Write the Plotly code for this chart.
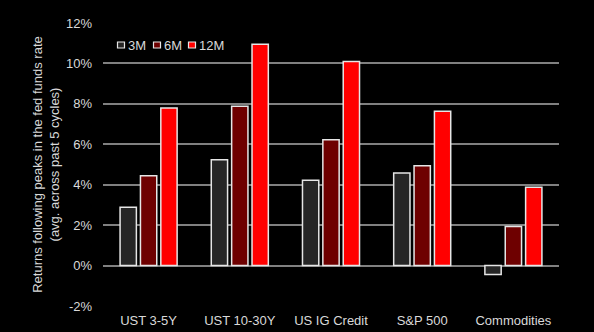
import plotly.graph_objects as go

# Asset classes and average returns (%) after fed funds peaks
categories = ["UST 3-5Y", "UST 10-30Y", "US IG Credit", "S&P 500", "Commodities"]
ret_3m = [2.88, 5.23, 4.22, 4.58, -0.44]
ret_6m = [4.44, 7.88, 6.22, 4.94, 1.93]
ret_12m = [7.79, 10.95, 10.10, 7.64, 3.87]
y_ticks = [-2, 0, 2, 4, 6, 8, 10, 12]
y_tick_labels = [f"{v}%" for v in y_ticks]

series = [
    ("3M", ret_3m, "#262626"),
    ("6M", ret_6m, "#6e0000"),
    ("12M", ret_12m, "#ff0000"),
]

FONT = "Liberation Sans, Arial, sans-serif"
TXT = "#d9d9d9"
OUTLINE = "#e6e6e6"

fig = go.Figure()
for name, vals, col in series:
    fig.add_trace(go.Bar(
        x=categories, y=vals, name=name,
        marker=dict(color=col, line=dict(color=OUTLINE, width=1.5)),
        showlegend=False,
    ))

# Compact legend drawn as small swatches with labels
legend_items = [("3M", "#262626", 117.5), ("6M", "#6e0000", 153.5), ("12M", "#ff0000", 188.5)]
W, H = 594, 332
L, R, T, B = 103, 35, 23, 26
pw, ph = W - L - R, H - T - B
shapes = []
annotations = []
for label, col, px in legend_items:
    x0 = (px - L) / pw
    x1 = (px + 7 - L) / pw
    y0 = 1 - (42 - T) / ph
    y1 = 1 - (48 - T) / ph
    shapes.append(dict(type="rect", xref="paper", yref="paper", x0=x0, x1=x1, y0=y0, y1=y1,
                       fillcolor=col, line=dict(color=OUTLINE, width=1.2)))
    annotations.append(dict(text=label, xref="paper", yref="paper", x=(px + 8.5 - L) / pw,
                            y=1 - (45 - T) / ph, xanchor="left", yanchor="middle",
                            showarrow=False, font=dict(family=FONT, size=13, color=TXT)))

fig.update_layout(
    width=W, height=H,
    margin=dict(l=L, r=R, t=T, b=B),
    paper_bgcolor="black", plot_bgcolor="black",
    barmode="group", bargap=0.33, bargroupgap=0.2,
    font=dict(family=FONT, size=13, color=TXT),
    shapes=shapes, annotations=annotations,
    xaxis=dict(showgrid=False, zeroline=False, showline=False, ticks="",
               tickfont=dict(size=13, color=TXT), ticklabelstandoff=5,
               automargin=False),
    yaxis=dict(range=[-2, 12], tickmode="array", tickvals=y_ticks, ticktext=y_tick_labels,
               showgrid=True, gridcolor="#808080", gridwidth=1.5,
               zeroline=True, zerolinecolor="#808080", zerolinewidth=1.5,
               showline=False, ticks="", ticklabelstandoff=10,
               tickfont=dict(size=13, color=TXT),
               title=dict(text="Returns following peaks in the fed funds rate<br>(avg. across past 5 cycles)",
                          font=dict(size=13, color=TXT), standoff=3),
               automargin=False),
)

fig.write_html("out.html")
